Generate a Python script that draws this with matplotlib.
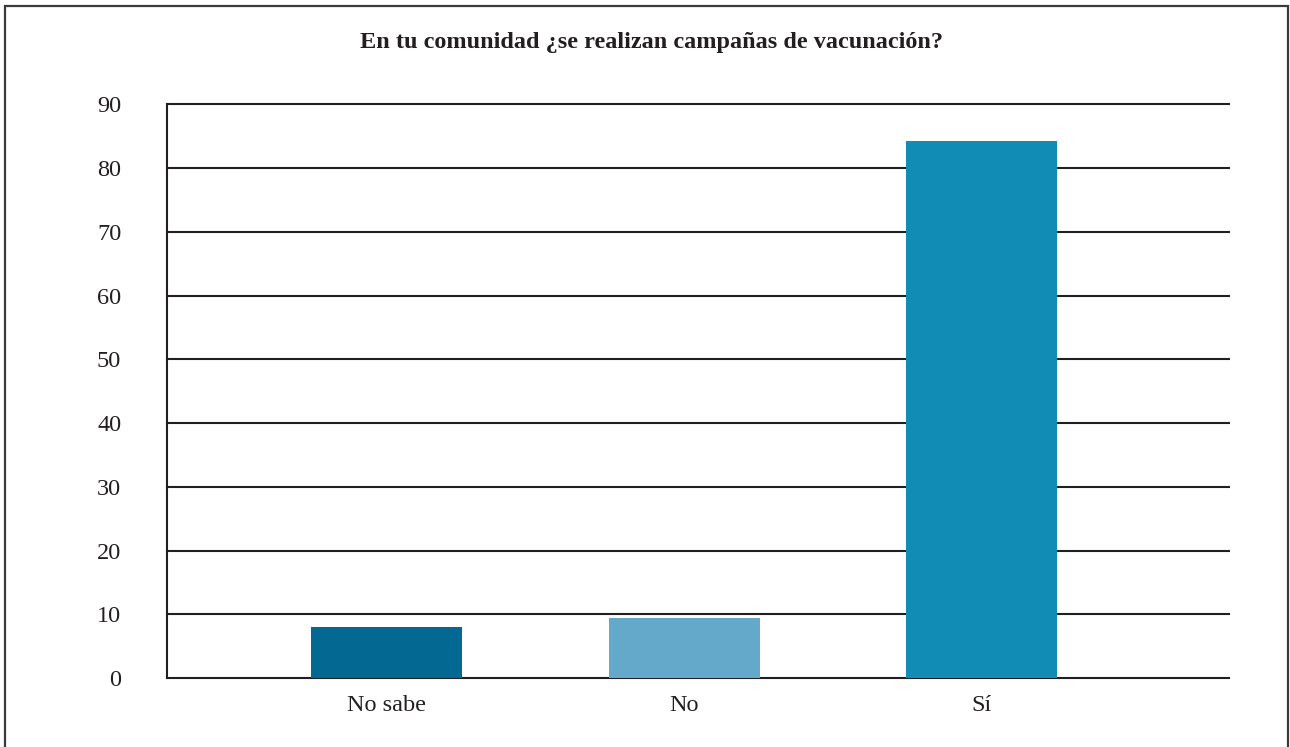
import matplotlib.pyplot as plt
import matplotlib.patches as mpatches
import numpy as np

plt.rcParams['font.family'] = 'Liberation Serif'

# Datos
categorias = ['No sabe', 'No', 'Sí']
valores = [8.0, 9.4, 84.2]
colores = ['#036892', '#64A9C9', '#118CB4']
ticks_y = np.arange(0, 91, 10)

fig = plt.figure(figsize=(12.9, 7.47), dpi=100)
ax = fig.add_axes([0.1295, 0.092, 0.8232, 0.7684])

x = np.arange(len(categorias))
ax.bar(x, valores, width=0.508, color=colores, zorder=3)

# Líneas horizontales de la cuadrícula
for t in ticks_y:
    ax.axhline(t, color='#231F20', linewidth=1.5, zorder=2, clip_on=False)

ax.set_xlim(-0.739, 2.833)
ax.set_ylim(0, 90)
ax.set_yticks(ticks_y)
ax.set_xticks(x)
ax.set_xticklabels(categorias)
ax.tick_params(axis='y', length=0, pad=33, labelsize=17.5, labelcolor='#231F20')
ax.tick_params(axis='x', length=0, pad=12, labelsize=17.5, labelcolor='#231F20')

for lado in ['top', 'right', 'bottom']:
    ax.spines[lado].set_visible(False)
ax.spines['left'].set_color('#231F20')
ax.spines['left'].set_linewidth(1.5)

fig.text(0.505, 0.943, 'En tu comunidad ¿se realizan campañas de vacunación?',
         ha='center', va='center', fontsize=17.5, fontweight='bold', color='#231F20')

# Marco alrededor de la figura
marco = mpatches.Rectangle((5 / 1290, -0.05), 1283 / 1290, 1.05 - 6 / 747,
                           transform=fig.transFigure, fill=False,
                           edgecolor='#3a3a3a', linewidth=1.6, clip_on=False)
fig.patches.append(marco)

fig.savefig('out.png', dpi=100, facecolor='white')
